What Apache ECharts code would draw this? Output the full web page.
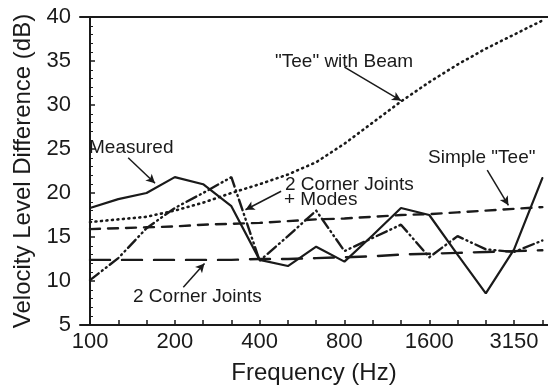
<!DOCTYPE html>
<html>
<head>
<meta charset="utf-8">
<script src="https://cdn.jsdelivr.net/npm/echarts@6/dist/echarts.min.js"></script>
<style>
  html, body { margin: 0; padding: 0; background: #fff; }
  #chart { width: 548px; height: 385px; }
</style>
</head>
<body>
<div id="chart"></div>
<script>
// third-octave band centres (Hz), one x step per band
const bands = ["100", "125", "160", "200", "250", "315", "400", "500", "630", "800", "1000", "1250", "1600", "2000", "2500", "3150", "4000"];
const labelledBands = ["100", "200", "400", "800", "1600", "3150"];

const measured = [18.3, 19.3, 20.0, 21.8, 21.0, 18.5, 12.4, 11.7, 13.9, 12.2, 15.2, 18.3, 17.5, 13.0, 8.6, 13.6, 21.7];
const teeWithBeam = [16.7, 17.0, 17.3, 18.0, 18.9, 20.0, 21.0, 22.1, 23.5, 25.6, 28.0, 30.4, 32.6, 34.6, 36.4, 38.0, 39.6];
const simpleTee = [15.9, 16.0, 16.1, 16.2, 16.4, 16.5, 16.6, 16.8, 17.0, 17.1, 17.3, 17.5, 17.6, 17.8, 18.0, 18.2, 18.4];
const cornerJoints = [12.4, 12.4, 12.4, 12.4, 12.4, 12.4, 12.5, 12.5, 12.6, 12.7, 12.8, 13.0, 13.1, 13.2, 13.3, 13.4, 13.5];
const cornerJointsModes = [10.1, 12.6, 16.0, 18.3, 20.0, 21.8, 12.3, 15.1, 18.0, 13.4, 14.9, 16.4, 12.7, 15.1, 13.6, 13.3, 14.6];

const yTicks = [5, 10, 15, 20, 25, 30, 35, 40];

const toPoints = (vals) => vals.map((v, i) => [i, v]);
const ink = "#1a1a1a";
const font = "'Liberation Sans', Arial, Helvetica, sans-serif";

const chart = echarts.init(document.getElementById("chart"), null, { renderer: "canvas" });

const lineSeries = (name, data, type, width) => ({
  name,
  type: "line",
  data: toPoints(data),
  symbol: "none",
  silent: true,
  lineStyle: { color: ink, width, type, cap: "round" },
  z: 3,
});

const arrows = {
  type: "line",
  data: [],
  silent: true,
  markLine: {
    silent: true,
    symbol: ["none", "arrow"],
    symbolSize: [7, 9],
    label: { show: false },
    lineStyle: { color: ink, width: 1.5, type: "solid" },
    data: [
      [{ coord: [1.35, 24.0] }, { coord: [2.3, 21.1] }],
      [{ coord: [9.0, 34.3] }, { coord: [11.0, 30.5] }],
      [{ coord: [14.05, 22.6] }, { coord: [14.8, 18.6] }],
      [{ coord: [6.76, 20.2] }, { coord: [5.5, 18.1] }],
      [{ coord: [3.3, 9.3] }, { coord: [4.05, 12.0] }],
    ],
  },
};

const annotation = (text, left, top) => ({
  type: "text",
  left,
  top,
  silent: true,
  style: { text, font: `19px ${font}`, fill: ink },
});

chart.setOption({
  backgroundColor: "#fff",
  animation: false,
  grid: { left: 80, right: 0, top: 17, bottom: 60, outerBoundsMode: "none" },
  xAxis: [
    {
      type: "value",
      min: -0.354,
      max: 16.2,
      name: "Frequency (Hz)",
      nameLocation: "middle",
      nameGap: 36,
      nameTextStyle: { fontFamily: font, fontSize: 24, color: ink },
      splitLine: { show: false },
      axisLine: { show: true, onZero: false, lineStyle: { color: ink, width: 2 } },
      axisTick: {
        show: true,
        inside: true,
        length: 5,
        lineStyle: { color: ink, width: 1.5 },
        customValues: bands.map((_, i) => i),
      },
      axisLabel: {
        fontFamily: font,
        fontSize: 22,
        color: ink,
        margin: 6,
        customValues: labelledBands.map((b) => bands.indexOf(b)),
        formatter: (v) => bands[Math.round(v)],
      },
    },
    {
      type: "value",
      position: "top",
      min: -0.354,
      max: 16.2,
      splitLine: { show: false },
      axisLine: { show: true, lineStyle: { color: ink, width: 2 } },
      axisTick: { show: false },
      axisLabel: { show: false },
    },
  ],
  yAxis: {
    type: "value",
    min: yTicks[0],
    max: yTicks[yTicks.length - 1],
    interval: 5,
    name: "Velocity Level Difference (dB)",
    nameLocation: "middle",
    nameGap: 42,
    nameTextStyle: { fontFamily: font, fontSize: 24, color: ink },
    splitLine: { show: false },
    axisLine: { show: true, lineStyle: { color: ink, width: 2 } },
    axisTick: { show: true, inside: true, length: 5, lineStyle: { color: ink, width: 1.5 } },
    minorTick: { show: true, splitNumber: 5, length: 3, lineStyle: { color: ink, width: 1 } },
    axisLabel: { fontFamily: font, fontSize: 22, color: ink, margin: 9 },
  },
  series: [
    lineSeries("Measured", measured, "solid", 2.2),
    lineSeries('"Tee" with Beam', teeWithBeam, [1, 4.5], 2.6),
    lineSeries('Simple "Tee"', simpleTee, [10, 8], 2.4),
    lineSeries("2 Corner Joints", cornerJoints, [20, 12], 2.4),
    lineSeries("2 Corner Joints + Modes", cornerJointsModes, [11, 4, 1, 4, 1, 4], 2.4),
    arrows,
  ],
  graphic: [
    annotation("Measured", 89, 138),
    annotation('"Tee" with Beam', 275, 52),
    annotation('Simple "Tee"', 428, 148),
    annotation("2 Corner Joints", 285, 175),
    annotation("+ Modes", 284, 190),
    annotation("2 Corner Joints", 133, 287),
  ],
});
</script>
</body>
</html>
